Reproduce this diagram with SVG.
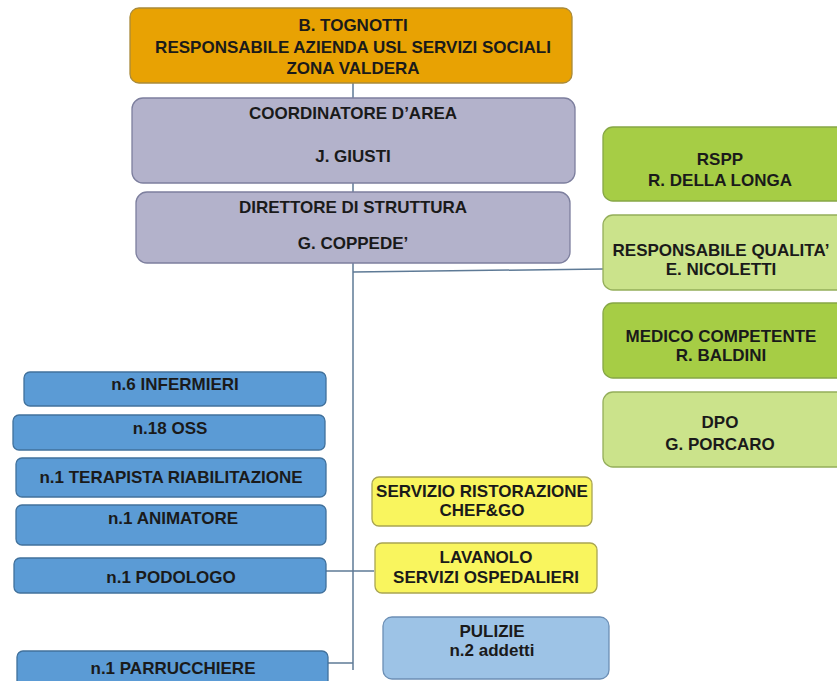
<svg xmlns="http://www.w3.org/2000/svg" width="837" height="681" viewBox="0 0 837 681">
<style>
text{font-family:"Liberation Sans",Arial,sans-serif;font-weight:bold;font-size:17px;fill:#1a1a1a;text-anchor:middle}
.or{fill:#E8A203;stroke:#A98A3A;stroke-width:1.3}
.lv{fill:#B3B2CB;stroke:#7D7F9E;stroke-width:1.3}
.gd{fill:#A6CD45;stroke:#86A745;stroke-width:1.3}
.gl{fill:#CBE38B;stroke:#94AE5A;stroke-width:1.3}
.bl{fill:#5B9BD5;stroke:#41719C;stroke-width:1.3}
.ye{fill:#F9F55E;stroke:#A9A552;stroke-width:1.3}
.lb{fill:#9DC3E6;stroke:#6C8FB5;stroke-width:1.3}
.cn{fill:none;stroke:#5E7A96;stroke-width:1.5}
</style>
<rect width="837" height="681" fill="#ffffff"/>
<g id="connectors">
<line class="cn" x1="353" y1="83" x2="353" y2="98"/>
<line class="cn" x1="353" y1="175" x2="353" y2="192"/>
<line class="cn" x1="353" y1="263" x2="353" y2="670"/>
<line class="cn" x1="353" y1="272" x2="603" y2="269"/>
<line class="cn" x1="326" y1="571" x2="374" y2="571"/>
<line class="cn" x1="328" y1="663" x2="353" y2="663"/>
</g>
<g id="tognotti">
<rect class="or" x="130" y="8" width="442" height="75" rx="9"/>
<text x="353" y="31">B. TOGNOTTI</text>
<text x="353" y="53">RESPONSABILE AZIENDA USL SERVIZI SOCIALI</text>
<text x="353" y="74">ZONA VALDERA</text>
</g>
<g id="coordinatore">
<rect class="lv" x="132" y="98" width="443" height="85" rx="11"/>
<text x="353" y="119">COORDINATORE D’AREA</text>
<text x="353" y="162">J. GIUSTI</text>
</g>
<g id="direttore">
<rect class="lv" x="136" y="192" width="434" height="71" rx="11"/>
<text x="353" y="213">DIRETTORE DI STRUTTURA</text>
<text x="353" y="249">G. COPPEDE’</text>
</g>
<g id="rspp">
<rect class="gd" x="603" y="127" width="245" height="74" rx="10"/>
<text x="720" y="165">RSPP</text>
<text x="720" y="186">R. DELLA LONGA</text>
</g>
<g id="qualita">
<rect class="gl" x="603" y="215" width="245" height="75" rx="10"/>
<text x="721" y="256">RESPONSABILE QUALITA’</text>
<text x="721" y="275">E. NICOLETTI</text>
</g>
<g id="medico">
<rect class="gd" x="603" y="303" width="245" height="75" rx="10"/>
<text x="721" y="342">MEDICO COMPETENTE</text>
<text x="721" y="361">R. BALDINI</text>
</g>
<g id="dpo">
<rect class="gl" x="603" y="392" width="245" height="75" rx="10"/>
<text x="720" y="428">DPO</text>
<text x="720" y="450">G. PORCARO</text>
</g>
<g id="infermieri">
<rect class="bl" x="24" y="372" width="302" height="34" rx="6"/>
<text x="175" y="390">n.6 INFERMIERI</text>
</g>
<g id="oss">
<rect class="bl" x="13" y="415" width="312" height="35" rx="6"/>
<text x="170" y="434">n.18 OSS</text>
</g>
<g id="terapista">
<rect class="bl" x="16" y="458" width="310" height="39" rx="6"/>
<text x="171" y="483">n.1 TERAPISTA RIABILITAZIONE</text>
</g>
<g id="animatore">
<rect class="bl" x="16" y="505" width="310" height="40" rx="6"/>
<text x="173" y="524">n.1 ANIMATORE</text>
</g>
<g id="podologo">
<rect class="bl" x="14" y="558" width="312" height="35" rx="6"/>
<text x="171" y="583">n.1 PODOLOGO</text>
</g>
<g id="parrucchiere">
<rect class="bl" x="17" y="651" width="311" height="40" rx="6"/>
<text x="173" y="674">n.1 PARRUCCHIERE</text>
</g>
<g id="ristorazione">
<rect class="ye" x="372" y="477" width="220" height="49" rx="7"/>
<text x="482" y="497">SERVIZIO RISTORAZIONE</text>
<text x="482" y="516">CHEF&amp;GO</text>
</g>
<g id="lavanolo">
<rect class="ye" x="375" y="543" width="222" height="50" rx="7"/>
<text x="486" y="563">LAVANOLO</text>
<text x="486" y="583">SERVIZI OSPEDALIERI</text>
</g>
<g id="pulizie">
<rect class="lb" x="383" y="617" width="226" height="62" rx="9"/>
<text x="492" y="637">PULIZIE</text>
<text x="492" y="656">n.2 addetti</text>
</g>
</svg>
